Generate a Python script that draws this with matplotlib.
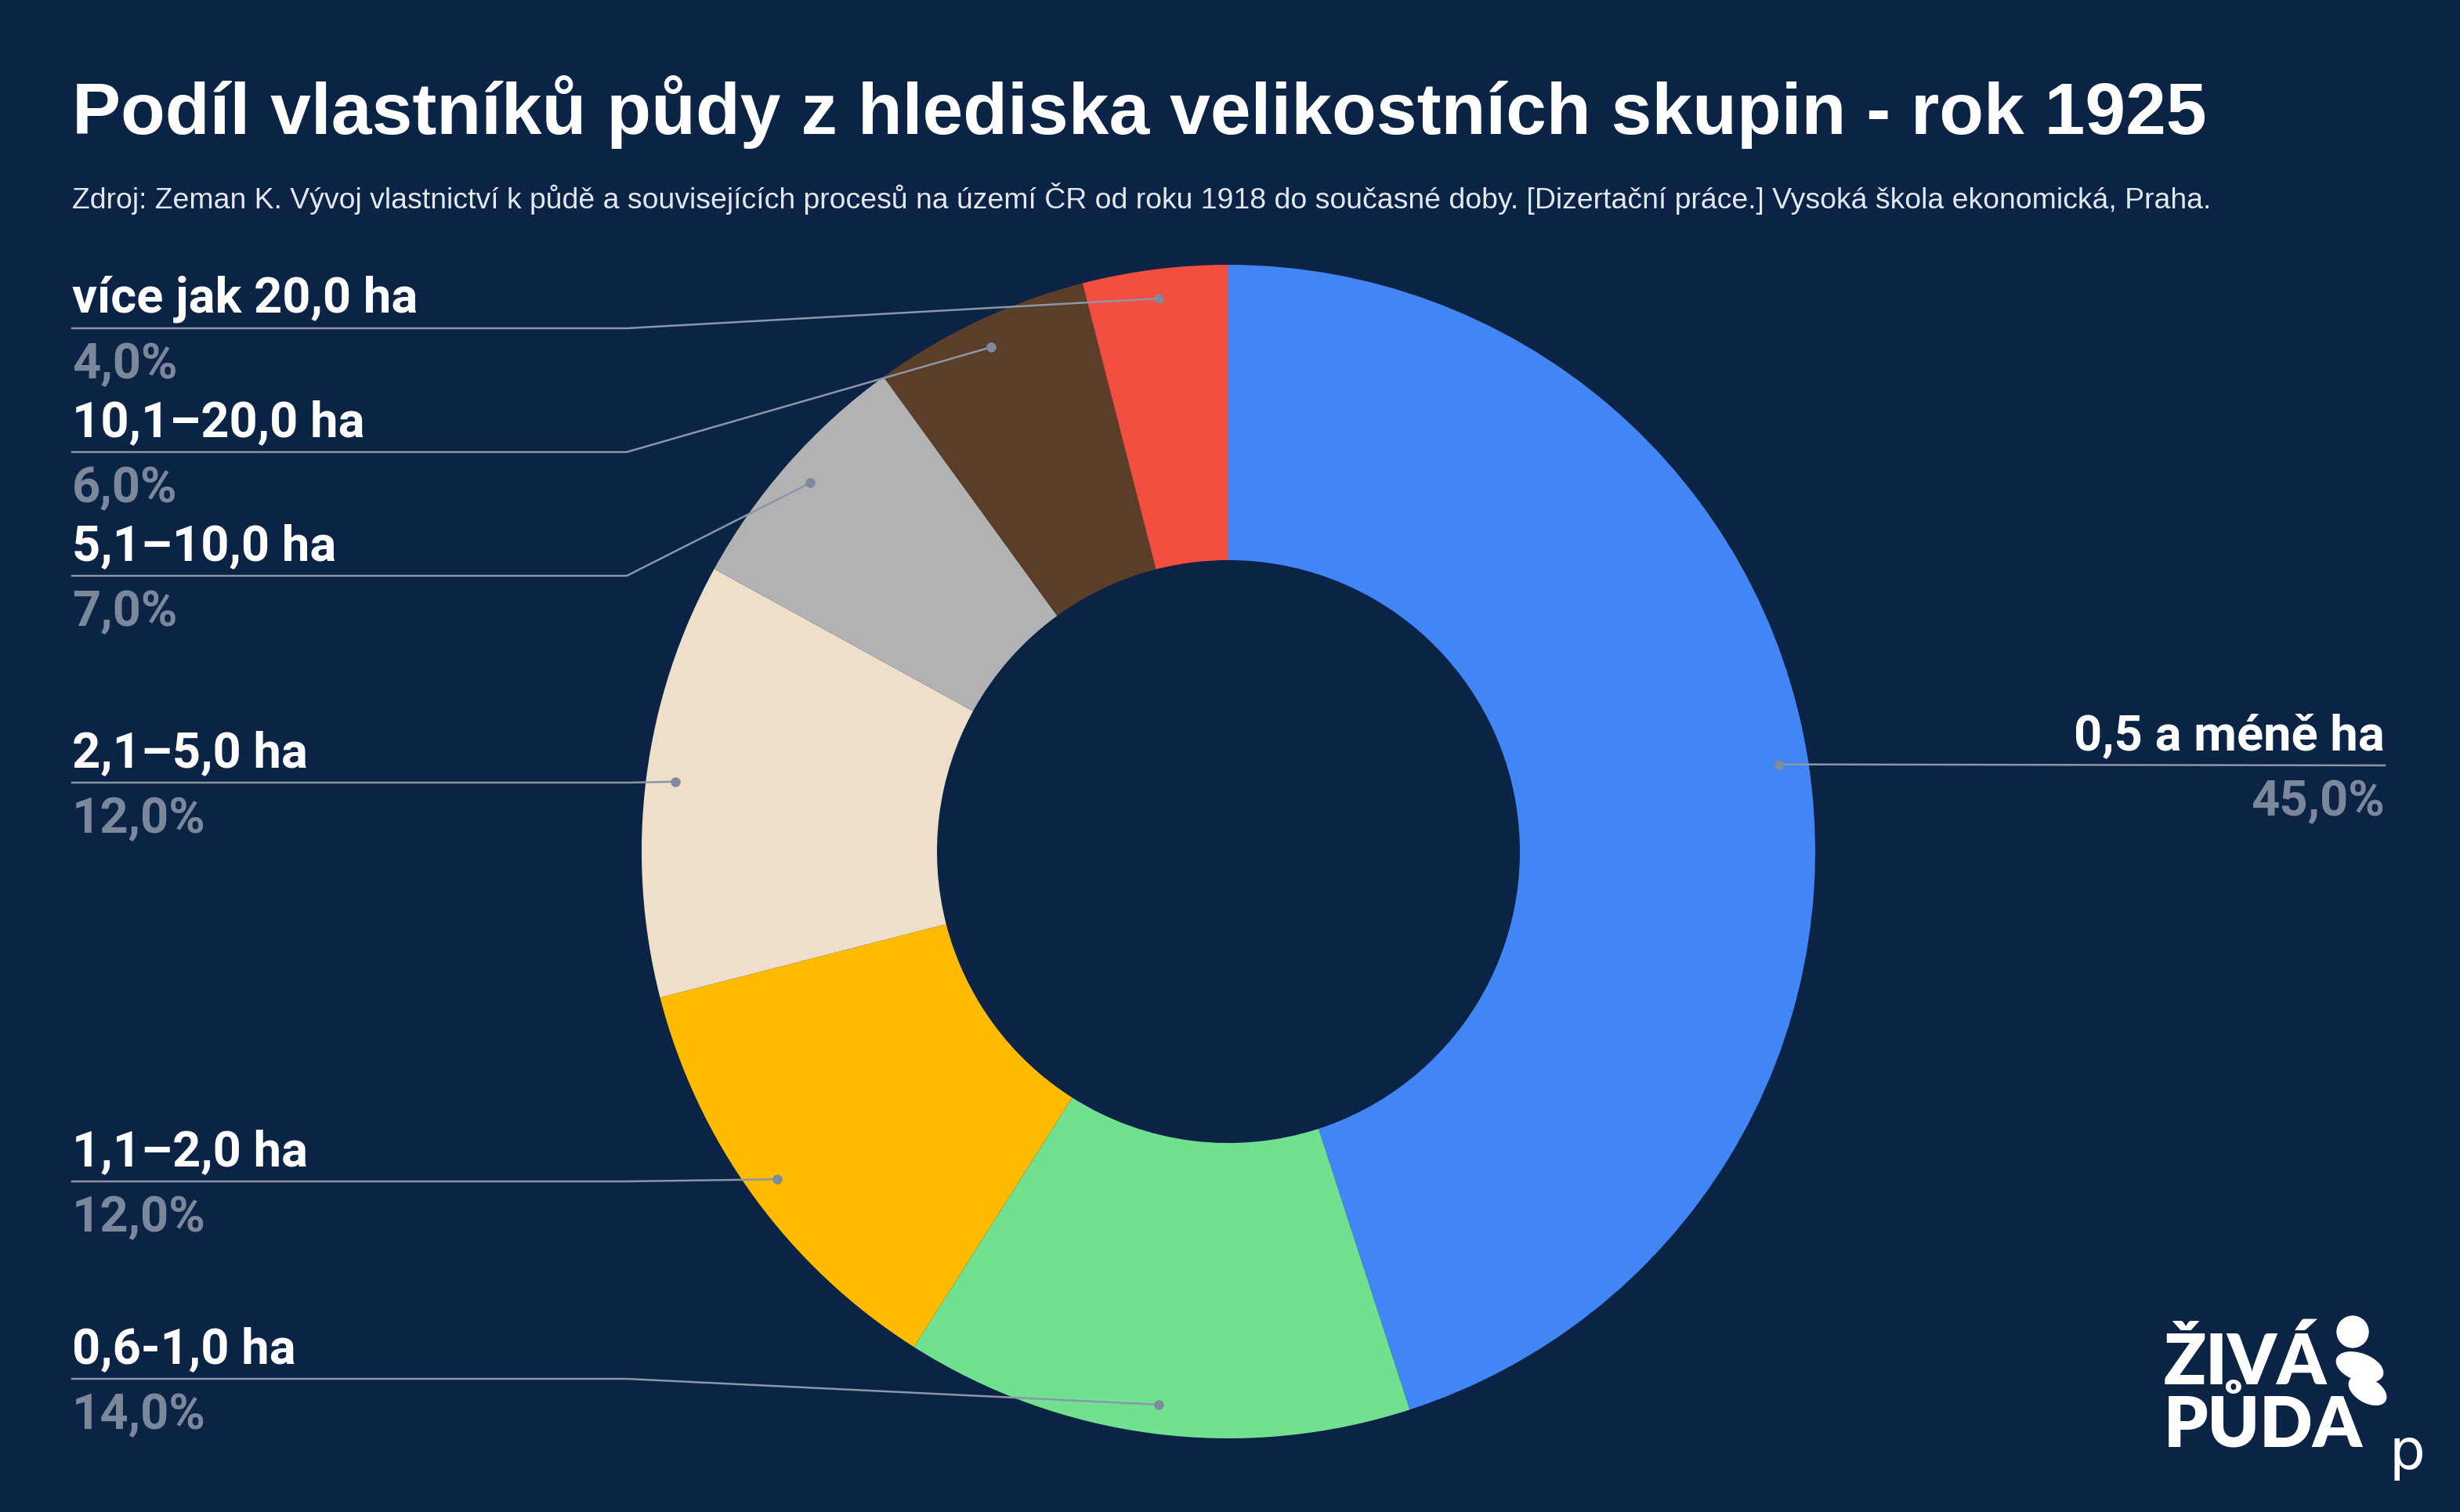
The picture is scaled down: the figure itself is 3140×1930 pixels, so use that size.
import numpy as np
import matplotlib
matplotlib.use("Agg")
import matplotlib.pyplot as plt
from matplotlib.patches import Circle, Ellipse

# data
categories = ["0,5 a méně ha", "0,6-1,0 ha", "1,1–2,0 ha", "2,1–5,0 ha",
              "5,1–10,0 ha", "10,1–20,0 ha", "více jak 20,0 ha"]
shares = [45.0, 14.0, 12.0, 12.0, 7.0, 6.0, 4.0]
colors = ["#4285F4", "#71E08F", "#FFBB00", "#EEDECA", "#B2B2B2", "#5B3E2A", "#F24F40"]

title = "Podíl vlastníků půdy z hlediska velikostních skupin - rok 1925"
source = ("Zdroj: Zeman K. Vývoj vlastnictví k půdě a souvisejících procesů na území ČR "
          "od roku 1918 do současné doby. [Dizertační práce.] Vysoká škola ekonomická, Praha.")

BG = "#0B2344"
W, H = 3140, 1930
LINE = "#8C96A8"
PCT = "#7B879A"

# label line y (pixels from top) for each category
label_line_y = [977, 1760, 1508, 999, 735, 577, 419]


def fy(y):
    return H - y


fig = plt.figure(figsize=(W / 100, H / 100), dpi=100, facecolor=BG)
ax = fig.add_axes([0, 0, 1, 1])
ax.set_facecolor(BG)

cx, cy, r_out, r_in = 1568, fy(1087), 749, 372
wedges, _ = ax.pie(shares, colors=colors, startangle=90, counterclock=False,
                   center=(cx, cy), radius=r_out, frame=True,
                   wedgeprops=dict(width=r_out - r_in, linewidth=0))
ax.set_xlim(0, W)
ax.set_ylim(0, H)
ax.set_aspect("equal")
ax.axis("off")

label_font = dict(family="Roboto", weight="bold", fontsize=45.5)
for w, cat, val, ly in zip(wedges, categories, shares, label_line_y):
    mid = np.deg2rad((w.theta1 + w.theta2) / 2)
    dx = cx + 0.95 * r_out * np.cos(mid)
    dy = cy + 0.95 * r_out * np.sin(mid)
    pct = f"{val:.1f}%".replace(".", ",")
    if dx > cx:
        x_end, ha = 3044, "right"
        ax.plot([dx, x_end], [dy, fy(ly)], color=LINE, lw=1.8, zorder=3)
    else:
        x_end, ha = 92, "left"
        ax.plot([x_end, 800, dx], [fy(ly), fy(ly), dy], color=LINE, lw=1.8, zorder=3)
    ax.text(x_end, fy(ly) + 20, cat, color="white", ha=ha, va="baseline", **label_font)
    ax.text(x_end, fy(ly) - 64, pct, color=PCT, ha=ha, va="baseline", **label_font)
    ax.plot(dx, dy, "o", color="#7F8A9C", markersize=8, zorder=4)

ax.text(92, fy(143), title, color="white", fontsize=67, weight="bold",
        family="Liberation Sans", ha="left", va="center")
ax.text(92, fy(254), source, color="#E3E7EE", fontsize=26.9,
        family="Liberation Sans", ha="left", va="center")

# logo
ax.text(2762, fy(1740), "ŽIVÁ", color="white", fontsize=64, weight="heavy",
        family="Lato", ha="left", va="center")
ax.text(2762, fy(1818), "PŮDA", color="white", fontsize=64, weight="heavy",
        family="Lato", ha="left", va="center")
ax.add_patch(Circle((3003, fy(1700)), 20, color="white", zorder=5))
ax.add_patch(Ellipse((3012, fy(1745)), 62, 34, angle=-20, color="white", zorder=5))
ax.add_patch(Ellipse((3022, fy(1775)), 52, 30, angle=-30, color="white", zorder=5))
ax.text(3072, fy(1855), "p", color="white", fontsize=52, family="DejaVu Sans",
        ha="center", va="center")

fig.savefig("out.png", dpi=100, facecolor=BG)
